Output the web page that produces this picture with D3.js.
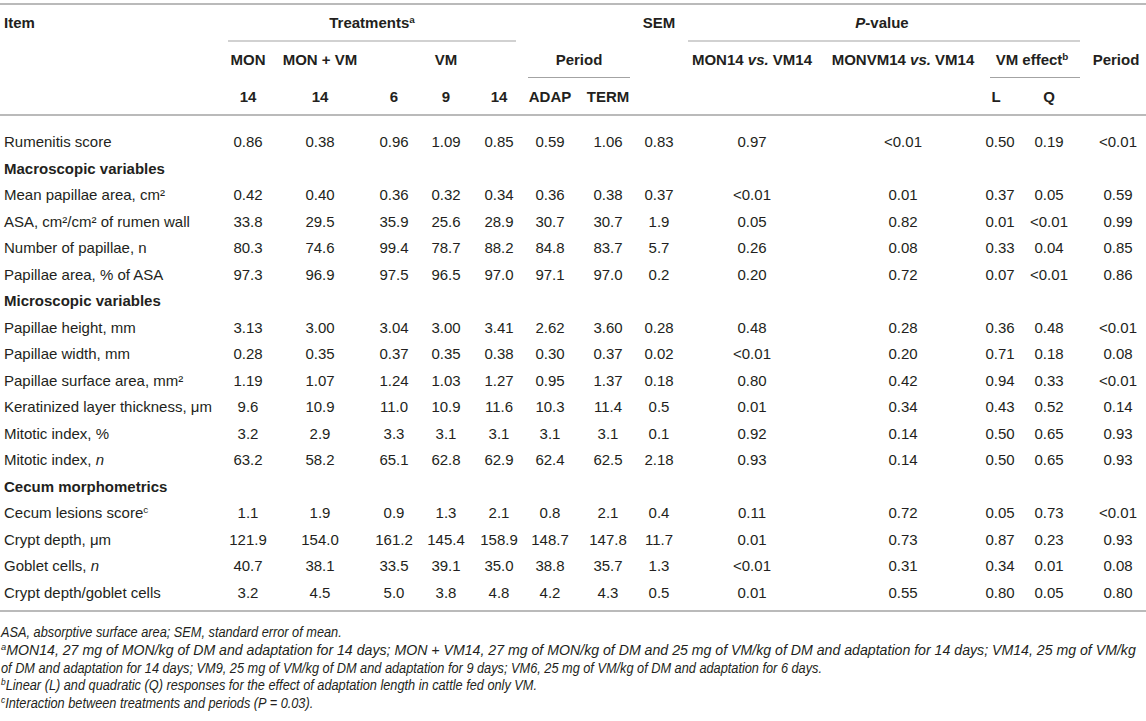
<!DOCTYPE html>
<html>
<head>
<meta charset="utf-8">
<script src="https://cdn.jsdelivr.net/npm/d3@7"></script>
<style>
  body { margin: 0; background: #fff; }
  svg { display: block; font-family: "Liberation Sans", Arial, Helvetica, sans-serif; }
</style>
</head>
<body>
<svg width="1146" height="721"></svg>
<script>
"use strict";

// row labels (*x* = italic, ^x = superscript), section rows have no values
const items = [
  "Rumenitis score",
  "Macroscopic variables",
  "Mean papillae area, cm²",
  "ASA, cm²/cm² of rumen wall",
  "Number of papillae, n",
  "Papillae area, % of ASA",
  "Microscopic variables",
  "Papillae height, mm",
  "Papillae width, mm",
  "Papillae surface area, mm²",
  "Keratinized layer thickness, μm",
  "Mitotic index, %",
  "Mitotic index, *n*",
  "Cecum morphometrics",
  "Cecum lesions score^c",
  "Crypt depth, μm",
  "Goblet cells, *n*",
  "Crypt depth/goblet cells"
];
const sections = ["Macroscopic variables", "Microscopic variables", "Cecum morphometrics"];

const mon14   = ["0.86", null, "0.42", "33.8", "80.3", "97.3", null, "3.13", "0.28", "1.19", "9.6", "3.2", "63.2", null, "1.1", "121.9", "40.7", "3.2"];
const monvm14 = ["0.38", null, "0.40", "29.5", "74.6", "96.9", null, "3.00", "0.35", "1.07", "10.9", "2.9", "58.2", null, "1.9", "154.0", "38.1", "4.5"];
const vm6     = ["0.96", null, "0.36", "35.9", "99.4", "97.5", null, "3.04", "0.37", "1.24", "11.0", "3.3", "65.1", null, "0.9", "161.2", "33.5", "5.0"];
const vm9     = ["1.09", null, "0.32", "25.6", "78.7", "96.5", null, "3.00", "0.35", "1.03", "10.9", "3.1", "62.8", null, "1.3", "145.4", "39.1", "3.8"];
const vm14    = ["0.85", null, "0.34", "28.9", "88.2", "97.0", null, "3.41", "0.38", "1.27", "11.6", "3.1", "62.9", null, "2.1", "158.9", "35.0", "4.8"];
const adap    = ["0.59", null, "0.36", "30.7", "84.8", "97.1", null, "2.62", "0.30", "0.95", "10.3", "3.1", "62.4", null, "0.8", "148.7", "38.8", "4.2"];
const term    = ["1.06", null, "0.38", "30.7", "83.7", "97.0", null, "3.60", "0.37", "1.37", "11.4", "3.1", "62.5", null, "2.1", "147.8", "35.7", "4.3"];
const sem     = ["0.83", null, "0.37", "1.9", "5.7", "0.2", null, "0.28", "0.02", "0.18", "0.5", "0.1", "2.18", null, "0.4", "11.7", "1.3", "0.5"];
const pMon    = ["0.97", null, "<0.01", "0.05", "0.26", "0.20", null, "0.48", "<0.01", "0.80", "0.01", "0.92", "0.93", null, "0.11", "0.01", "<0.01", "0.01"];
const pMonvm  = ["<0.01", null, "0.01", "0.82", "0.08", "0.72", null, "0.28", "0.20", "0.42", "0.34", "0.14", "0.14", null, "0.72", "0.73", "0.31", "0.55"];
const pL      = ["0.50", null, "0.37", "0.01", "0.33", "0.07", null, "0.36", "0.71", "0.94", "0.43", "0.50", "0.50", null, "0.05", "0.87", "0.34", "0.80"];
const pQ      = ["0.19", null, "0.05", "<0.01", "0.04", "<0.01", null, "0.48", "0.18", "0.33", "0.52", "0.65", "0.65", null, "0.73", "0.23", "0.01", "0.05"];
const pPeriod = ["<0.01", null, "0.59", "0.99", "0.85", "0.86", null, "<0.01", "0.08", "<0.01", "0.14", "0.93", "0.93", null, "<0.01", "0.93", "0.08", "0.80"];

const columns = ["mon14", "monvm14", "vm6", "vm9", "vm14", "adap", "term", "sem", "pMon", "pMonvm", "pL", "pQ", "pPeriod"];
const columnValues = [mon14, monvm14, vm6, vm9, vm14, adap, term, sem, pMon, pMonvm, pL, pQ, pPeriod];

const footnotes = [
  "ASA, absorptive surface area; SEM, standard error of mean.",
  "^aMON14, 27 mg of MON/kg of DM and adaptation for 14 days; MON + VM14, 27 mg of MON/kg of DM and 25 mg of VM/kg of DM and adaptation for 14 days; VM14, 25 mg of VM/kg",
  "of DM and adaptation for 14 days; VM9, 25 mg of VM/kg of DM and adaptation for 9 days; VM6, 25 mg of VM/kg of DM and adaptation for 6 days.",
  "^bLinear (L) and quadratic (Q) responses for the effect of adaptation length in cattle fed only VM.",
  "^cInteraction between treatments and periods (P = 0.03)."
];

const svg = d3.select("svg");
const width = +svg.attr("width");
const textColor = "#231f20";
const ruleColor = "#a3a3a3";
const fontSize = 15;
const left = 4;

// x centre of each column
const xCol = d3.scaleOrdinal()
  .domain(columns)
  .range([248, 320, 394, 446, 499, 550, 608, 659, 752, 903, 1000, 1049, 1118]);

const yRow = d3.scalePoint()
  .domain(d3.range(items.length))
  .range([142, 592.5]);

const headerY = [23, 60, 97];
const rules = { top: 4, h1: 41, h2: 77.5, headBottom: 115, bottom: 611 };

// writes a string with *italic* and ^sup markers into a text selection
const rich = (sel, str) => {
  str.split(/(\*[^*]+\*|\^\w)/).filter(s => s).forEach(p => {
    if (p[0] === "*") {
      sel.append("tspan").attr("font-style", "italic").text(p.slice(1, -1));
    } else if (p[0] === "^") {
      sel.append("tspan")
        .attr("baseline-shift", "super")
        .attr("font-size", "66%")
        .text(p.slice(1));
    } else {
      sel.append("tspan").text(p);
    }
  });
};

const g = svg.append("g").attr("fill", textColor).attr("font-size", fontSize);

// horizontal rules
const ruleG = svg.append("g").attr("stroke", ruleColor);
const hRule = (x1, x2, y, w) =>
  ruleG.append("line")
    .attr("x1", x1).attr("x2", x2)
    .attr("y1", y).attr("y2", y)
    .attr("stroke-width", w);

hRule(0, width, rules.top, 1.6);
hRule(0, width, rules.headBottom, 1.6);
hRule(0, width, rules.bottom, 1.6);
hRule(228, 516, rules.h1, 1.2);
hRule(688, 1080, rules.h1, 1.2);
hRule(528, 630, rules.h2, 1.2);
hRule(990, 1080, rules.h2, 1.2);

// header cells
const headers = [
  { t: "Item", x: left, r: 0, a: "start" },
  { t: "Treatments^a", x: 372, r: 0 },
  { t: "SEM", x: xCol("sem"), r: 0 },
  { t: "*P*-value", x: 882, r: 0 },
  { t: "MON", x: xCol("mon14"), r: 1 },
  { t: "MON + VM", x: xCol("monvm14"), r: 1 },
  { t: "VM", x: xCol("vm9"), r: 1 },
  { t: "Period", x: (xCol("adap") + xCol("term")) / 2, r: 1 },
  { t: "MON14 *vs.* VM14", x: xCol("pMon"), r: 1 },
  { t: "MONVM14 *vs.* VM14", x: xCol("pMonvm"), r: 1 },
  { t: "VM effect^b", x: 1032, r: 1 },
  { t: "Period", x: 1116, r: 1 },
  { t: "14", x: xCol("mon14"), r: 2 },
  { t: "14", x: xCol("monvm14"), r: 2 },
  { t: "6", x: xCol("vm6"), r: 2 },
  { t: "9", x: xCol("vm9"), r: 2 },
  { t: "14", x: xCol("vm14"), r: 2 },
  { t: "ADAP", x: xCol("adap"), r: 2 },
  { t: "TERM", x: xCol("term"), r: 2 },
  { t: "L", x: 996, r: 2 },
  { t: "Q", x: xCol("pQ"), r: 2 }
];

g.selectAll("text.head")
  .data(headers)
  .enter()
  .append("text")
  .attr("class", "head")
  .attr("x", d => d.x)
  .attr("y", d => headerY[d.r])
  .attr("dy", "0.35em")
  .attr("font-weight", "bold")
  .attr("text-anchor", d => d.a || "middle")
  .each(function(d) { rich(d3.select(this), d.t); });

// row labels
g.selectAll("text.item")
  .data(items)
  .enter()
  .append("text")
  .attr("class", "item")
  .attr("x", left)
  .attr("y", (d, i) => yRow(i))
  .attr("dy", "0.35em")
  .attr("font-weight", d => sections.includes(d) ? "bold" : null)
  .each(function(d) { rich(d3.select(this), d); });

// value cells
const cells = [];
columnValues.forEach((vals, c) => {
  vals.forEach((v, i) => {
    if (v !== null) cells.push({ col: columns[c], row: i, v });
  });
});

g.selectAll("text.cell")
  .data(cells)
  .enter()
  .append("text")
  .attr("class", "cell")
  .attr("x", d => xCol(d.col))
  .attr("y", d => yRow(d.row))
  .attr("dy", "0.35em")
  .attr("text-anchor", "middle")
  .text(d => d.v);

// footnotes: italic, condensed by a horizontal scale; the wrapped "a" line is justified
const fnY = d3.scalePoint().domain(d3.range(footnotes.length)).range([632, 703]);
const fn = g.selectAll("text.fn")
  .data(footnotes)
  .enter()
  .append("text")
  .attr("class", "fn")
  .attr("x", 0)
  .attr("y", 0)
  .attr("dy", "0.35em")
  .attr("font-size", 14.5)
  .attr("font-style", "italic")
  .each(function(d) { rich(d3.select(this), d); });

const squeeze = 822 / fn.filter((d, i) => i === 2).node().getComputedTextLength();
fn.each(function(d, i) {
  const len = this.getComputedTextLength();
  const sx = i === 1 ? 1136 / len : squeeze;
  d3.select(this).attr("transform", `translate(1,${fnY(i)}) scale(${sx},1)`);
});
</script>
</body>
</html>
